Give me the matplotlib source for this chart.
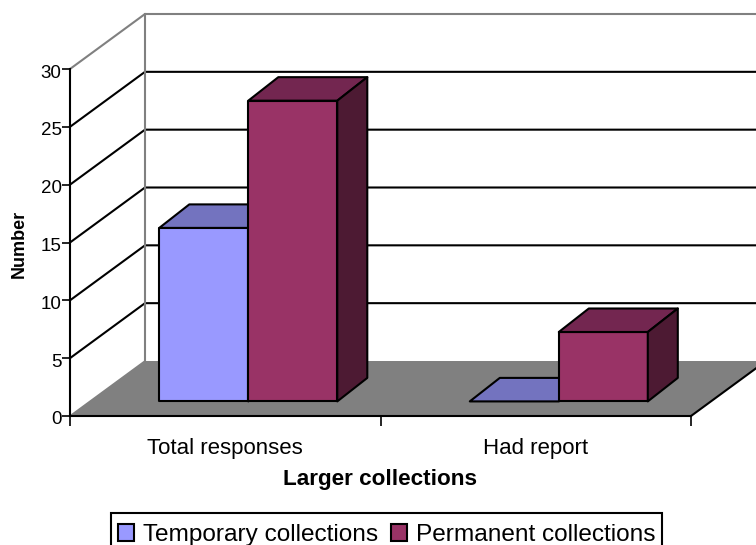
#!/usr/bin/env python3
# coding: utf-8
import matplotlib
matplotlib.use("Agg")
import matplotlib.pyplot as plt
from matplotlib.patches import Polygon, Patch, Rectangle
from matplotlib.transforms import ScaledTranslation

categories = ["Total responses", "Had report"]
temporary = [15, 0]
permanent = [26, 6]
y_ticks = [0, 5, 10, 15, 20, 25, 30]
series_names = ["Temporary collections", "Permanent collections"]

W, H = 756, 545
plt.rcParams["font.family"] = ["Liberation Sans", "DejaVu Sans"]

# axes frame is the front plane of the fake 3D box, in pixels
X0, X1, Y0, Y1 = 70, 691, 416, 69
fig = plt.figure(figsize=(W / 100, H / 100), dpi=100)
ax = fig.add_axes([X0 / W, 1 - Y0 / H, (X1 - X0) / W, (Y0 - Y1) / H])
ax.set_xlim(0, 2)
ax.set_ylim(0, 30)

# depth of the box and of the bars, in data units
px = (X1 - X0) / 2
py = (Y0 - Y1) / 30
DX, DY = 75 / px, 55 / py
BAR_DX, BAR_DY = 30 / px, 23.5 / py
BAR_OFF_X, BAR_OFF_Y = 89.3 / px, 14.6 / py
BAR_W = 89.0 / px


def poly(pts, fc, ec="black", lw=1.5, z=3):
    ax.add_patch(Polygon(pts, closed=True, fc=fc, ec=ec, lw=lw, zorder=z,
                         clip_on=False, joinstyle="round"))


def bar3d(left, value, front, top, side, z):
    x = left + BAR_OFF_X
    y = BAR_OFF_Y
    poly([(x, y), (x + BAR_W, y), (x + BAR_W, y + value), (x, y + value)], front, z=z)
    poly([(x, y + value), (x + BAR_W, y + value),
          (x + BAR_W + BAR_DX, y + value + BAR_DY), (x + BAR_DX, y + value + BAR_DY)], top, z=z)
    poly([(x + BAR_W, y), (x + BAR_W + BAR_DX, y + BAR_DY),
          (x + BAR_W + BAR_DX, y + value + BAR_DY), (x + BAR_W, y + value)], side, z=z)


# floor
poly([(0, 0), (2, 0), (2 + DX, DY), (DX, DY)], "#808080", ec="none", z=1)
ax.plot([2, 2 + DX], [0, DY], color="black", lw=1.5, zorder=2, clip_on=False)

# walls and gridlines
for t in y_ticks[1:-1]:
    ax.plot([0, DX, 2 + DX], [t, t + DY, t + DY], color="black", lw=1.5,
            zorder=1.5, clip_on=False, solid_joinstyle="miter")
ax.plot([0, DX, 2 + DX], [30, 30 + DY, 30 + DY], color="#808080", lw=1.5,
        zorder=1.5, clip_on=False)
ax.plot([DX, DX], [DY, 30 + DY], color="#808080", lw=1.5, zorder=1.5, clip_on=False)
ax.plot([0, DX], [0, DY], color="#808080", lw=1.2, zorder=1.5, clip_on=False)

# bars
for i in range(len(categories)):
    bar3d(i, temporary[i], "#9999FF", "#7373BF", "#4D4D80", 3)
    bar3d(i + BAR_W, permanent[i], "#993366", "#732650", "#4D1A33", 4)

# axes
for s in ["top", "right"]:
    ax.spines[s].set_visible(False)
ax.spines["left"].set_linewidth(1.5)
ax.spines["bottom"].set_linewidth(1.5)
ax.spines["left"].set_zorder(5)
ax.spines["bottom"].set_zorder(5)
ax.patch.set_visible(False)
ax.set_yticks(y_ticks)
ax.tick_params(axis="y", length=6, width=1.2, labelsize=13.5, pad=0)
# labels sit a little below their ticks in the original
shift = ScaledTranslation(0, -2 / 100, fig.dpi_scale_trans)
for lab in ax.get_yticklabels():
    lab.set_transform(lab.get_transform() + shift)
ax.set_xticks([0, 1, 2])
ax.set_xticklabels([])
ax.tick_params(axis="x", which="major", length=7, width=1.2)
ax.set_xticks([0.5, 1.5], minor=True)
ax.set_xticklabels(categories, minor=True, fontsize=16)
ax.tick_params(axis="x", which="minor", length=0, pad=16)

fig.text(19.5 / W, 1 - 243.5 / H, "Number", rotation=90, fontsize=13, fontweight="bold",
         ha="center", va="center")
fig.text(380 / W, 1 - 479 / H, "Larger collections", fontsize=16.2, fontweight="bold",
         ha="center", va="center")

# legend frame runs off the bottom of the picture, so it is drawn on its own
fig.add_artist(Rectangle((111 / W, -5 / H), 551 / W, (H - 513 + 5) / H, fc="white", ec="black",
                         lw=1.5, transform=fig.transFigure, zorder=1))
handles = [Patch(fc="#9999FF", ec="black", lw=1.5), Patch(fc="#993366", ec="black", lw=1.5)]
leg = fig.legend(handles, series_names, loc="upper left", ncol=2,
                 bbox_to_anchor=(118 / W, 1 - 524 / H), fontsize=17.6, frameon=False,
                 borderaxespad=0, borderpad=0, handlelength=0.65, handleheight=0.65,
                 handletextpad=0.36, columnspacing=0.54)
leg.set_zorder(2)

fig.savefig("out.png", dpi=100)
